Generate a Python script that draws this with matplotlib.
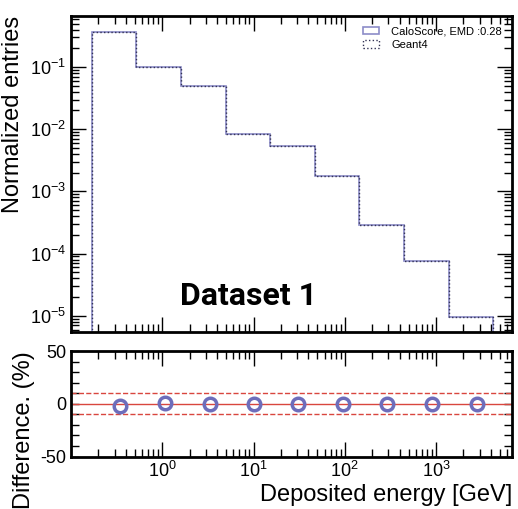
import numpy as np
import matplotlib
matplotlib.use("Agg")
import matplotlib.pyplot as plt
from matplotlib.ticker import LogLocator, MultipleLocator, NullFormatter, FixedLocator

plt.rcParams['font.family'] = ['Liberation Sans', 'DejaVu Sans']
plt.rcParams['mathtext.default'] = 'regular'

# Data
bin_edges = [0.172, 0.52, 1.6, 5.0, 15.0, 47.0, 145.0, 442.0, 1380.0, 4200.0]
geant4_vals = [0.367, 0.100, 0.049, 0.0083, 0.0053, 0.00175, 2.9e-4, 7.7e-5, 9.6e-6]
caloscore_vals = [0.367, 0.100, 0.049, 0.0083, 0.0053, 0.00175, 2.9e-4, 7.7e-5, 9.6e-6]
diff_pct = [-2.5, 0.8, 0.0, 0.0, 0.0, 0.0, 0.0, 0.0, 0.0]
x_major_ticks = [1, 10, 100, 1000]
emd_label = "CaloScore, EMD :0.28"
ref_label = "Geant4"
dataset_label = "Dataset 1"

edges = np.array(bin_edges)
centers = 0.5 * (edges[1:] + edges[:-1])

fig = plt.figure(figsize=(5.18, 5.09), dpi=100)
W, H = 518, 509
ax = fig.add_axes([71 / W, 1 - 332 / H, (512 - 71) / W, (332 - 16) / H])
axr = fig.add_axes([71 / W, 1 - 456.5 / H, (512 - 71) / W, (456.5 - 351) / H])

purple = '#6d6dbb'
ax.hist(centers, bins=edges, weights=caloscore_vals, histtype='step',
        color='#8c8cc8', lw=1.2, label=emd_label)
ax.hist(centers, bins=edges, weights=geant4_vals, histtype='step',
        color='#333355', lw=1.0, ls=':', label=ref_label)

for a in (ax, axr):
    a.set_xscale('log')
    a.set_xlim(0.1, 6800)
    for s in a.spines.values():
        s.set_linewidth(2)
    a.tick_params(which='both', direction='in', top=True, right=True,
                  labelsize=13, width=1)
    a.tick_params(which='major', length=11)
    a.tick_params(which='minor', length=6)
    a.xaxis.set_major_locator(FixedLocator(x_major_ticks))
    a.xaxis.set_minor_locator(LogLocator(base=10, subs=np.arange(2, 10), numticks=20))
    a.xaxis.set_minor_formatter(NullFormatter())

ax.set_yscale('log')
ax.set_ylim(5.5e-6, 0.66)
ax.yaxis.set_major_locator(LogLocator(base=10, numticks=20))
ax.yaxis.set_minor_locator(LogLocator(base=10, subs=np.arange(2, 10), numticks=20))
ax.yaxis.set_minor_formatter(NullFormatter())
ax.tick_params(axis='x', labelbottom=False)
ax.set_ylabel('Normalized entries', fontsize=17, loc='top')

ax.legend(loc='upper right', frameon=False, fontsize=8, handlelength=1.4,
          handleheight=0.6, handletextpad=1.1, labelspacing=0.35,
          borderaxespad=0.5)

ax.text(0.403, 0.115, dataset_label, transform=ax.transAxes, ha='center',
        va='center', fontsize=23, fontweight='bold',
        family=['Roboto', 'Liberation Sans'])

axr.axhline(0, color='#d9463e', lw=1)
axr.axhline(10, color='#d9463e', lw=1, ls='--')
axr.axhline(-10, color='#d9463e', lw=1, ls='--')
axr.plot(centers, diff_pct, 'o', mfc='none', mec=purple, mew=2.5, ms=9)
axr.set_ylim(-50, 50)
axr.yaxis.set_major_locator(FixedLocator([-50, 0, 50]))
axr.yaxis.set_minor_locator(MultipleLocator(10))
axr.tick_params(axis='y', which='major', length=6)
axr.set_yticklabels(['-50', '0', '50'])
axr.set_ylabel('Difference. (%)', fontsize=17, loc='top')
axr.set_xlabel('Deposited energy [GeV]', fontsize=17, loc='right', labelpad=2)

fig.savefig('out.png', dpi=100)
